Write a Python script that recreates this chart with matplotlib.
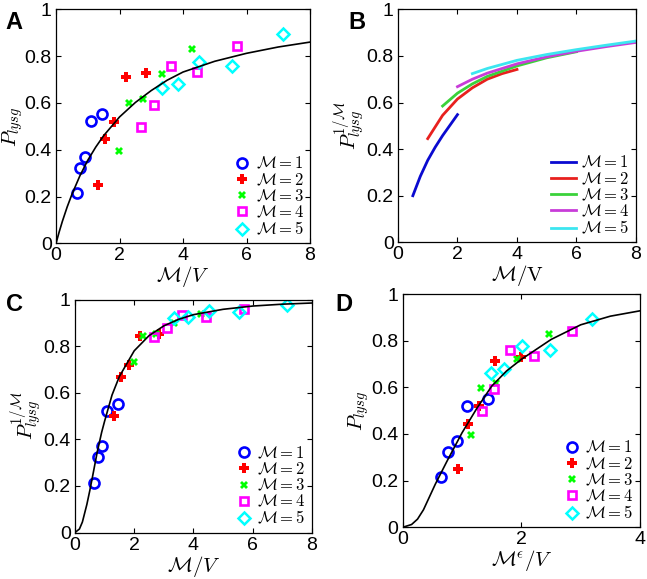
import matplotlib
matplotlib.use("Agg")
import matplotlib.pyplot as plt
import numpy as np

plt.rcParams['font.family'] = ['Liberation Sans', 'DejaVu Sans']
plt.rcParams['mathtext.fontset'] = 'cm'

# ---------------- data ----------------
M_values = [1, 2, 3, 4, 5]
legend_labels = [r'$\mathcal{M}=1$', r'$\mathcal{M}=2$', r'$\mathcal{M}=3$',
                 r'$\mathcal{M}=4$', r'$\mathcal{M}=5$']

# measured points: x = M/V, y = P_lysg (panel A)
mv_m1 = [0.65, 0.76, 0.91, 1.09, 1.44]
p_m1 = [0.214, 0.323, 0.370, 0.522, 0.551]
mv_m2 = [1.33, 1.55, 1.83, 2.20, 2.83]
p_m2 = [0.248, 0.444, 0.519, 0.712, 0.729]
mv_m3 = [1.98, 2.29, 2.73, 3.35, 4.27]
p_m3 = [0.395, 0.598, 0.617, 0.722, 0.829]
mv_m4 = [2.67, 3.09, 3.62, 4.43, 5.71]
p_m4 = [0.497, 0.593, 0.759, 0.734, 0.843]
mv_m5 = [3.33, 3.83, 4.51, 5.55, 7.14]
p_m5 = [0.662, 0.679, 0.776, 0.758, 0.895]
epsilon = 0.5

# panel A fit curve
curveA_x = [0, 0.1, 0.2, 0.35, 0.5, 0.75, 1, 1.25, 1.5, 2, 2.5, 3, 3.5, 4, 5, 6, 7, 8]
curveA_y = [0, 0.049, 0.094, 0.155, 0.209, 0.288, 0.355, 0.411, 0.460, 0.540,
            0.602, 0.653, 0.697, 0.732, 0.778, 0.812, 0.839, 0.860]

# panel B curves
B_x1 = [0.5, 0.75, 1, 1.25, 1.5, 1.75, 2]
B_y1 = [0.20, 0.283, 0.352, 0.408, 0.458, 0.503, 0.548]
B_x2 = [1, 1.5, 2, 2.5, 3, 3.5, 4]
B_y2 = [0.445, 0.545, 0.615, 0.663, 0.700, 0.724, 0.742]
B_x3 = [1.5, 2, 2.5, 3, 4, 5, 6]
B_y3 = [0.585, 0.640, 0.680, 0.712, 0.757, 0.792, 0.818]
B_x4 = [2, 2.5, 3, 4, 5, 6, 7, 8]
B_y4 = [0.668, 0.700, 0.726, 0.766, 0.796, 0.820, 0.840, 0.858]
B_x5 = [2.5, 3, 4, 5, 6, 7, 8]
B_y5 = [0.724, 0.746, 0.781, 0.806, 0.827, 0.846, 0.864]

# panel C collapse curve
curveC_x = [0, 0.15, 0.25, 0.4, 0.5, 0.6, 0.75, 0.9, 1, 1.25, 1.5, 2, 2.5, 3,
            3.5, 4, 5, 6, 7, 8]
curveC_y = [0, 0.015, 0.045, 0.12, 0.18, 0.245, 0.345, 0.43, 0.478, 0.59, 0.67,
            0.78, 0.845, 0.887, 0.915, 0.935, 0.958, 0.972, 0.980, 0.985]

# panel D curve
curveD_x = [0, 0.15, 0.25, 0.35, 0.45, 0.55, 0.65, 0.75, 1, 1.25, 1.5, 1.75, 2,
            2.5, 3, 3.5, 4]
curveD_y = [0, 0.012, 0.035, 0.075, 0.13, 0.185, 0.235, 0.285, 0.405, 0.51,
            0.605, 0.67, 0.72, 0.805, 0.868, 0.905, 0.928]

mv_all = [mv_m1, mv_m2, mv_m3, mv_m4, mv_m5]
p_all = [p_m1, p_m2, p_m3, p_m4, p_m5]
B_x = [B_x1, B_x2, B_x3, B_x4, B_x5]
B_y = [B_y1, B_y2, B_y3, B_y4, B_y5]

# ---------------- styles ----------------
mk_colors = ['#0000ff', '#ff0000', '#00ff00', '#ff00ff', '#00ffff']
line_colors = ['#0a0ad0', '#e8201e', '#3ad23a', '#c83cd8', '#3ce6f0']
mk_styles = [dict(marker='o', ms=7.2, mew=1.9, mfc='none'),
             dict(marker='P', ms=6.8, mew=0.0),
             dict(marker='X', ms=5.5, mew=0.0),
             dict(marker='s', ms=5.8, mew=1.9, mfc='none'),
             dict(marker='D', ms=6.5, mew=1.8, mfc='none')]

fig = plt.figure(figsize=(6.47, 5.79), dpi=100)
axA = fig.add_axes([0.0866, 0.5798, 0.3926, 0.4041])
axB = fig.add_axes([0.6151, 0.5815, 0.3679, 0.4024])
axC = fig.add_axes([0.1159, 0.0803, 0.3663, 0.4024])
axD = fig.add_axes([0.6224, 0.0893, 0.3668, 0.4029])

tick_fs = 14
label_fs = 15


def style_axis(ax, xmax, xticks):
    ax.set_xlim(0, xmax)
    ax.set_ylim(0, 1)
    ax.set_xticks(xticks)
    ax.set_yticks([0, 0.2, 0.4, 0.6, 0.8, 1])
    ax.set_yticklabels(['0', '0.2', '0.4', '0.6', '0.8', '1'])
    ax.set_xticklabels([str(t) for t in xticks])
    ax.tick_params(direction='in', length=3.5, width=0.8, top=True, right=True,
                   labelsize=tick_fs)
    ax.tick_params(axis='x', pad=3)
    ax.tick_params(axis='y', pad=3)
    for s in ax.spines.values():
        s.set_linewidth(0.9)


def scatter_panel(ax, xs_list, ys_list):
    for i in range(5):
        st = mk_styles[i]
        ax.plot(xs_list[i], ys_list[i], ls='none', color=mk_colors[i],
                mec=mk_colors[i], label=legend_labels[i], **st)


def make_legend(ax, handle_len=1.0):
    leg = ax.legend(loc='lower right', frameon=False, fontsize=12,
                    labelspacing=0.0, handletextpad=0.3, borderaxespad=0.15,
                    handlelength=handle_len, borderpad=0.2)
    return leg


# Panel A
scatter_panel(axA, mv_all, p_all)
axA.plot(curveA_x, curveA_y, color='black', lw=1.2)
style_axis(axA, 8, [0, 2, 4, 6, 8])
make_legend(axA)
axA.set_ylabel(r'$P_{lysg}$', fontsize=label_fs, labelpad=0)
axA.set_xlabel(r'$\mathcal{M}/V$', fontsize=label_fs, labelpad=0)

# Panel B
for i in range(5):
    axB.plot(B_x[i], B_y[i], color=line_colors[i], lw=2.0, label=legend_labels[i])
style_axis(axB, 8, [0, 2, 4, 6, 8])
make_legend(axB, handle_len=1.5)
axB.set_ylabel(r'$P^{1/\mathcal{M}}_{lysg}$', fontsize=label_fs, labelpad=0)
axB.set_xlabel(r'$\mathcal{M}/\mathrm{V}$', fontsize=label_fs, labelpad=0)

# Panel C
c_y = [list(np.power(p_all[i], 1.0 / M_values[i])) for i in range(5)]
scatter_panel(axC, mv_all, c_y)
axC.plot(curveC_x, curveC_y, color='black', lw=1.2)
style_axis(axC, 8, [0, 2, 4, 6, 8])
make_legend(axC)
axC.set_ylabel(r'$P^{1/\mathcal{M}}_{lysg}$', fontsize=label_fs, labelpad=0)
axC.set_xlabel(r'$\mathcal{M}/V$', fontsize=label_fs, labelpad=0)

# Panel D
d_x = [list(np.array(mv_all[i]) * M_values[i] ** (epsilon - 1.0)) for i in range(5)]
scatter_panel(axD, d_x, p_all)
axD.plot(curveD_x, curveD_y, color='black', lw=1.2)
style_axis(axD, 4, [0, 2, 4])
make_legend(axD)
axD.set_ylabel(r'$P_{lysg}$', fontsize=label_fs, labelpad=0)
axD.set_xlabel(r'$\mathcal{M}^{\epsilon}/V$', fontsize=label_fs, labelpad=0)

# Panel letters
for lbl, (x, y) in zip(['A', 'B', 'C', 'D'],
                       [(5, 29), (348, 29), (6, 311), (335, 311)]):
    fig.text(x / 647, 1 - y / 579, lbl, fontsize=17, fontweight='bold',
             ha='left', va='baseline')

fig.savefig('out.png', dpi=100)
